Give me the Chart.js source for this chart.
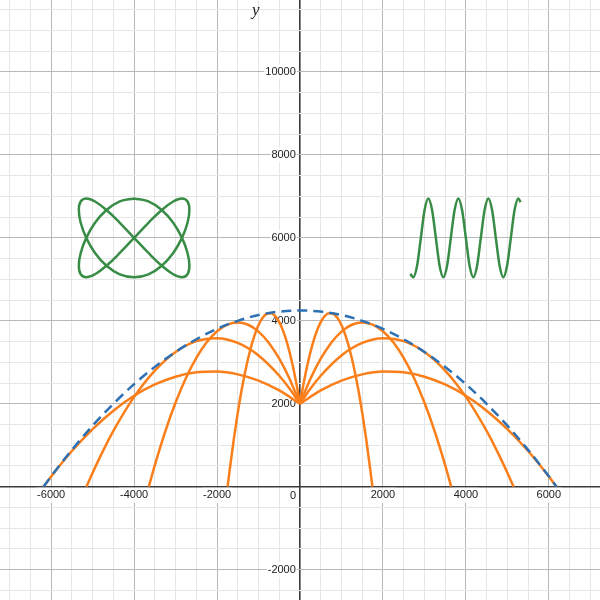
<!DOCTYPE html>
<html>
<head>
<meta charset="utf-8">
<script src="https://cdn.jsdelivr.net/npm/chart.js@4.4.0/dist/chart.umd.min.js"></script>
<style>
  html, body { margin: 0; padding: 0; background: #ffffff; }
  #wrap { width: 600px; height: 600px; }
</style>
</head>
<body>
<div id="wrap"><canvas id="graph" width="600" height="600"></canvas></div>
<script>
// visible window of the graph
var xMin = -7234, xMax = 7234;
var yMin = -2732, yMax = 11736;

// labelled (major) ticks and the minor grid step
var xTickLabels = [-6000, -4000, -2000, 2000, 4000, 6000];
var yTickLabels = [-2000, 2000, 4000, 6000, 8000, 10000];
var gridStep = 500;

// dashed envelope curve
var envX = [-6185, -6000, -5500, -5000, -4500, -4000, -3500, -3000, -2500, -2000, -1500, -1000, -500, 0,
            500, 1000, 1500, 2000, 2500, 3000, 3500, 4000, 4500, 5000, 5500, 6000, 6185];
var envY = [0, 250, 889, 1472, 2000, 2472, 2889, 3250, 3556, 3806, 4000, 4139, 4222, 4250,
            4222, 4139, 4000, 3806, 3556, 3250, 2889, 2472, 2000, 1472, 889, 250, 0];

// trajectories, right half (distance from the launch point); left half is the same shape
var shot1X = [0, 100, 200, 300, 400, 500, 600, 700, 800, 900, 1000, 1100, 1200, 1300, 1400, 1500, 1600, 1700, 1746];
var shot1Y = [2000, 2557, 3032, 3426, 3738, 3968, 4117, 4184, 4170, 4074, 3897, 3638, 3297, 2875, 2372, 1786, 1119, 371, 0];

var shot2X = [0, 250, 500, 750, 1000, 1250, 1500, 1750, 2000, 2250, 2500, 2750, 3000, 3250, 3500, 3646];
var shot2Y = [2000, 2597, 3086, 3467, 3740, 3905, 3961, 3909, 3750, 3482, 3106, 2621, 2029, 1328, 520, 0];

var shot3X = [0, 250, 500, 1000, 1500, 2000, 2500, 3000, 3500, 4000, 4500, 4750, 5000, 5149];
var shot3Y = [2000, 2362, 2676, 3165, 3467, 3582, 3509, 3249, 2801, 2166, 1345, 863, 335, 0];

var shot4X = [0, 500, 1000, 1500, 2000, 2500, 3000, 3500, 4000, 4500, 5000, 5500, 6000, 6185];
var shot4Y = [2000, 2321, 2558, 2709, 2776, 2757, 2653, 2465, 2192, 1833, 1390, 862, 248, 0];

// closed figure on the left
var lissX = [-4000, -3655, -3333, -3057, -2846, -2712, -2667, -2712, -2846, -3057, -3333, -3655,
             -4000, -4345, -4667, -4943, -5154, -5288, -5333, -5288, -5154, -4943, -4667, -4345,
             -4000, -3655, -3333, -3057, -2846, -2712, -2667, -2712, -2846, -3057, -3333, -3655,
             -4000, -4345, -4667, -4943, -5154, -5288, -5333, -5288, -5154, -4943, -4667, -4345, -4000];
var lissY = [6950, 6878, 6672, 6364, 6000, 5636, 5328, 5122, 5050, 5122, 5328, 5636,
             6000, 6364, 6672, 6878, 6950, 6878, 6672, 6364, 6000, 5636, 5328, 5122,
             5050, 5122, 5328, 5636, 6000, 6364, 6672, 6878, 6950, 6878, 6672, 6364,
             6000, 5636, 5328, 5122, 5050, 5122, 5328, 5636, 6000, 6364, 6672, 6878, 6950];

// wave on the right
var waveX = [2660, 2733, 2823, 2914, 3004, 3095, 3185, 3276, 3366, 3456, 3547, 3637, 3728, 3818, 3908,
             3999, 4089, 4180, 4270, 4360, 4451, 4541, 4632, 4722, 4813, 4903, 4993, 5084, 5174, 5265, 5320];
var waveY = [5130, 5050, 5328, 6000, 6672, 6950, 6672, 6000, 5328, 5050, 5328, 6000, 6672, 6950, 6672,
             6000, 5328, 5050, 5328, 6000, 6672, 6950, 6672, 6000, 5328, 5050, 5328, 6000, 6672, 6950, 6860];

var orange = '#fa7e19';
var blue   = '#2d70b3';
var green  = '#388c46';

function pts(xs, ys) {
    var out = [];
    for (var i = 0; i < xs.length; i++) {
        out.push({x: xs[i], y: ys[i]});
    }
    return out;
}

// left half, ordered by increasing x
function leftPts(xs, ys) {
    var out = [];
    for (var i = xs.length - 1; i >= 0; i--) {
        out.push({x: -xs[i], y: ys[i]});
    }
    return out;
}

function curve(data, color, extra) {
    var ds = {
        data: data,
        borderColor: color,
        borderWidth: 2.5,
        pointRadius: 0,
        pointHoverRadius: 0,
        fill: false,
        cubicInterpolationMode: 'monotone'
    };
    for (var k in extra) ds[k] = extra[k];
    return ds;
}

var datasets = [
    curve(pts(envX, envY), blue, {borderDash: [10, 6]}),
    curve(pts(shot1X, shot1Y), orange), curve(leftPts(shot1X, shot1Y), orange),
    curve(pts(shot2X, shot2Y), orange), curve(leftPts(shot2X, shot2Y), orange),
    curve(pts(shot3X, shot3Y), orange), curve(leftPts(shot3X, shot3Y), orange),
    curve(pts(shot4X, shot4Y), orange), curve(leftPts(shot4X, shot4Y), orange),
    curve(pts(lissX, lissY), green, {cubicInterpolationMode: 'default', tension: 0.4}),
    curve(pts(waveX, waveY), green)
];

// grid ticks every gridStep inside the window
function gridTicks(lo, hi) {
    var out = [];
    for (var v = Math.ceil(lo / gridStep) * gridStep; v <= hi; v += gridStep) {
        out.push({value: v});
    }
    return out;
}

function tickValue(c) {
    return c.tick ? c.tick.value : 1;
}

// the zero grid line is the axis itself
function gridColor(c) {
    var v = tickValue(c);
    if (v === 0) return '#3a3a3a';
    return v % 2000 === 0 ? '#b8b8b8' : '#e6e6e6';
}

function gridWidth(c) {
    return tickValue(c) === 0 ? 1.6 : 1;
}

function xLabel(v) {
    return xTickLabels.indexOf(v) >= 0 ? String(v) : '';
}

function yLabel(v) {
    return yTickLabels.indexOf(v) >= 0 ? String(v) : '';
}

function backdrop(c) {
    var v = c.tick ? c.tick.value : 0;
    return (v % 2000 === 0 && v !== 0) ? 'rgba(255,255,255,0.85)' : 'rgba(255,255,255,0)';
}

var tickFont = {family: '"Liberation Sans", Arial, sans-serif', size: 11};

// extra labels: the origin "0" and the y axis name
var extraText = {
    id: 'extraText',
    afterDraw: function(chart) {
        var ctx = chart.ctx;
        var xs = chart.scales.x, ys = chart.scales.y;
        ctx.save();
        ctx.fillStyle = '#222';
        ctx.font = '11px "Liberation Sans", Arial, sans-serif';
        ctx.textAlign = 'center';
        ctx.textBaseline = 'middle';
        ctx.fillText('0', xs.getPixelForValue(0) - 7, ys.getPixelForValue(0) + 9);
        ctx.font = 'italic 17px "Liberation Serif", "DejaVu Serif", serif';
        ctx.textAlign = 'left';
        ctx.textBaseline = 'alphabetic';
        ctx.fillText('y', xs.getPixelForValue(0) - 48, 15);
        ctx.restore();
    }
};

var graph = new Chart(document.getElementById('graph'), {
    type: 'line',
    data: {datasets: datasets},
    plugins: [extraText],
    options: {
        responsive: false,
        animation: false,
        events: [],
        layout: {padding: 0, autoPadding: false},
        plugins: {legend: {display: false}, tooltip: {enabled: false}},
        scales: {
            x: {
                type: 'linear',
                position: {y: 0},
                min: xMin,
                max: xMax,
                grid: {color: gridColor, lineWidth: gridWidth, drawTicks: false},
                border: {display: false},
                ticks: {
                    autoSkip: false, maxRotation: 0,
                    padding: 2, color: '#222', font: tickFont, callback: xLabel,
                    showLabelBackdrop: true, backdropColor: backdrop, backdropPadding: 1
                },
                afterBuildTicks: function(s) { s.ticks = gridTicks(xMin, xMax); },
                afterFit: function(s) { s.height = 0; s.paddingLeft = 0; s.paddingRight = 0; }
            },
            y: {
                type: 'linear',
                // labels sit a little left of the axis line
                position: {x: -100},
                min: yMin,
                max: yMax,
                grid: {color: gridColor, lineWidth: gridWidth, drawTicks: false},
                border: {display: false},
                ticks: {
                    autoSkip: false,
                    color: '#222', font: tickFont, callback: yLabel,
                    showLabelBackdrop: true, backdropColor: backdrop, backdropPadding: 1
                },
                afterBuildTicks: function(s) { s.ticks = gridTicks(yMin, yMax); },
                afterFit: function(s) { s.width = 0; s.paddingTop = 0; s.paddingBottom = 0; }
            }
        }
    }
});
</script>
</body>
</html>
